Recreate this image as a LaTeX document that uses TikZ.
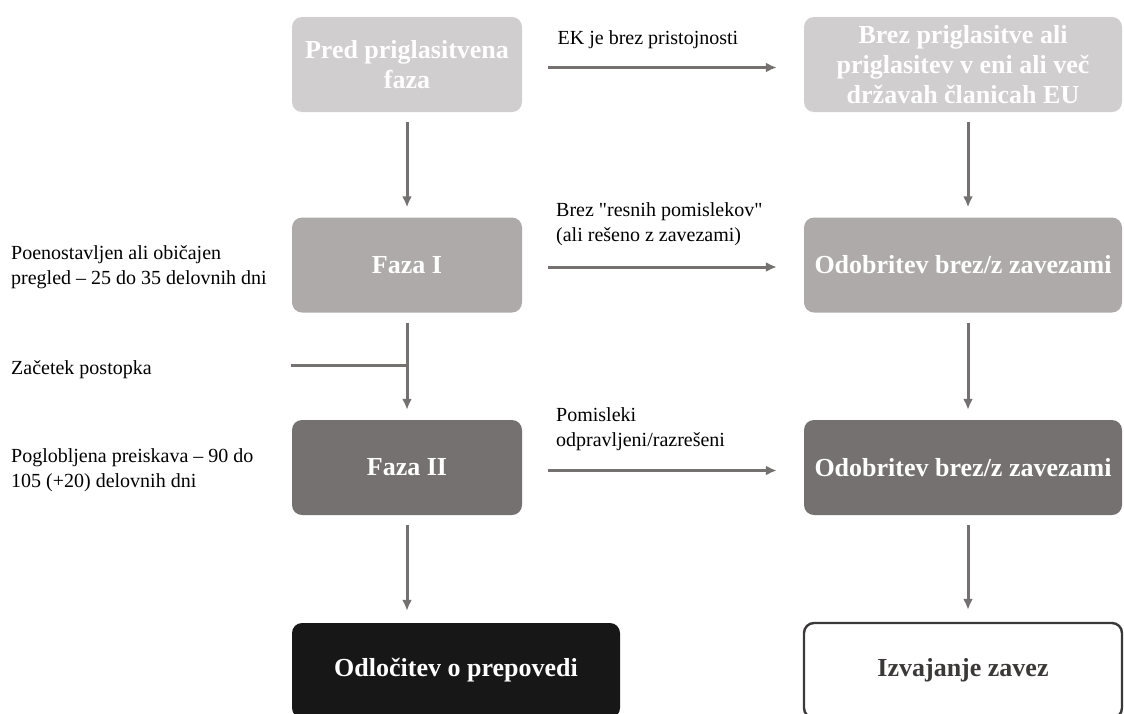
\documentclass[tikz,border=0pt]{standalone}
\usepackage{fontspec}
\setmainfont{Liberation Serif}[Ligatures=TeXOff]
\usetikzlibrary{calc,arrows.meta}
\definecolor{phaselight}{HTML}{D0CECE}
\definecolor{phasemid}{HTML}{AEAAAA}
\definecolor{phasedark}{HTML}{767171}
\definecolor{phaseblack}{HTML}{181717}
\definecolor{edgegray}{HTML}{3B3838}
\tikzset{>={Latex[length=11pt,width=10pt]}}

\begin{document}
\begin{tikzpicture}[x=1pt,y=-1pt,
    phase/.style={rounded corners=10pt,minimum height=95pt,inner sep=0pt,
      align=center,text=white,font=\fontsize{26}{30}\selectfont\bfseries},
    note/.style={align=left,inner sep=0pt,font=\fontsize{20}{25}\selectfont},
    flow/.style={->,draw=phasedark,line width=3pt}]
    \useasboundingbox (0,0) rectangle (1124,713);
    \clip (0,0) rectangle (1124,713);
    % left column
    \node[phase,fill=phaselight,minimum width=230pt] (pred) at (407,64.5) {Pred priglasitvena\\faza};
    \node[phase,fill=phasemid,minimum width=230pt] (fazaI) at (407,265) {Faza I};
    \node[phase,fill=phasedark,minimum width=230pt] (fazaII) at (407,467.5) {Faza II};
    \node[phase,fill=phaseblack,minimum width=328pt] (prepoved) at (456,670.5) {Odločitev o prepovedi};
    % right column
    \node[phase,fill=phaselight,minimum width=318pt] (brez) at (963,64.5) {Brez priglasitve ali\\priglasitev v eni ali več\\državah članicah EU};
    \node[phase,fill=phasemid,minimum width=318pt] (odobI) at (963,265) {Odobritev brez/z zavezami};
    \node[phase,fill=phasedark,minimum width=318pt] (odobII) at (963,467.5) {Odobritev brez/z zavezami};
    \node[phase,fill=white,draw=edgegray,line width=2.4pt,text=edgegray,minimum width=318pt] (zaveze) at (963,670.5) {Izvajanje zavez};
    % notes
    \node[note,anchor=west] (redni) at (11,267) {Poenostavljen ali običajen\\pregled – 25 do 35 delovnih dni};
    \node[note,anchor=west] (zacetek) at (11,370) {Začetek postopka};
    \node[note,anchor=west] (poglob) at (11,470) {Poglobljena preiskava – 90 do\\105 (+20) delovnih dni};
    % arrows
    \draw[flow,shorten <=26pt,shorten >=27pt] ([yshift=-3pt]pred.east) -- ([yshift=-3pt]brez.west)
      node[note,anchor=base west,pos=0,xshift=34pt,yshift=23pt] (ekbrez) {EK je brez pristojnosti};
    \draw[flow,shorten <=26pt,shorten >=27pt] ([yshift=-2pt]fazaI.east) -- ([yshift=-2pt]odobI.west);
    \node[note,anchor=south west] (resni) at (556,246) {Brez "resnih pomislekov"\\(ali rešeno z zavezami)};
    \draw[flow,shorten <=26pt,shorten >=27pt] ([yshift=-3pt]fazaII.east) -- ([yshift=-3pt]odobII.west);
    \node[note,anchor=south west] (odpravljeni) at (556,451) {Pomisleki\\odpravljeni/razrešeni};
    \foreach \a/\b in {pred/fazaI,fazaI/fazaII}
      \draw[flow,shorten <=10pt,shorten >=10pt] (\a.south) -- (\b.north);
    \foreach \a/\b in {brez/odobI,odobI/odobII}
      \draw[flow,shorten <=10pt,shorten >=10pt] ([xshift=5pt]\a.south) -- ([xshift=5pt]\b.north);
    \draw[flow,shorten <=10pt,shorten >=12pt] (fazaII.south) -- (fazaII.south |- prepoved.north);
    \draw[flow,shorten <=10pt,shorten >=12pt] ([xshift=5pt]odobII.south) -- ([xshift=5pt]odobII.south |- zaveze.north);
    \coordinate (start) at (291,365);
    \draw[draw=phasedark,line width=3pt] (start) -- (start -| fazaI.south);
\end{tikzpicture}
\end{document}
